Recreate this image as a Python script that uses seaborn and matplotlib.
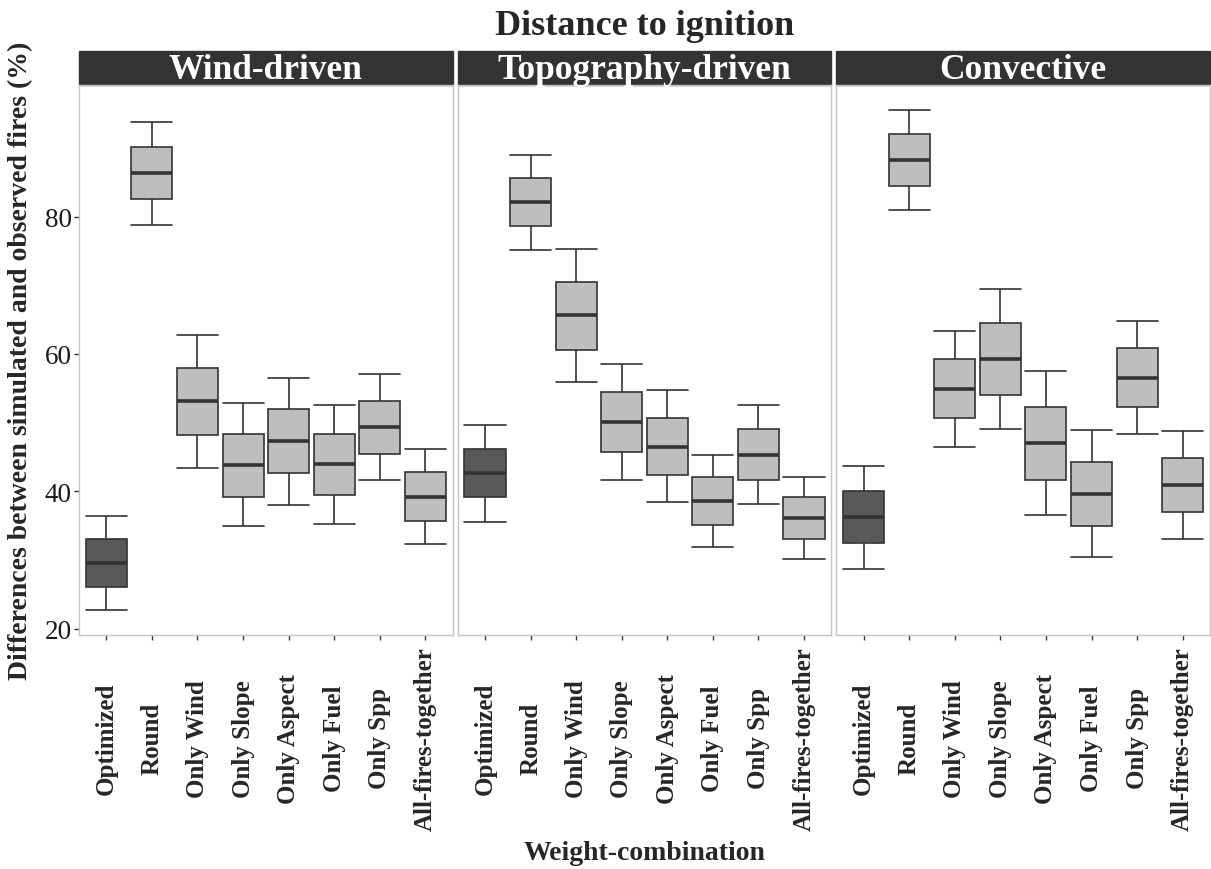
import numpy as np
import pandas as pd
import matplotlib
matplotlib.use("Agg")
import matplotlib.pyplot as plt
from matplotlib.patches import Rectangle
import seaborn as sns

combos = ["Optimized", "Round", "Only Wind", "Only Slope", "Only Aspect",
          "Only Fuel", "Only Spp", "All-fires-together"]
regimes = ["Wind-driven", "Topography-driven", "Convective"]

# per box: lower whisker, Q1, median, Q3, upper whisker
wind_vals = [
    [22.7, 26.0, 29.6, 33.1, 36.4],
    [78.8, 82.5, 86.4, 90.2, 93.8],
    [43.4, 48.2, 53.1, 58.0, 62.7],
    [34.9, 39.2, 43.8, 48.4, 52.8],
    [38.0, 42.6, 47.3, 51.9, 56.5],
    [35.2, 39.4, 43.9, 48.3, 52.5],
    [41.6, 45.4, 49.3, 53.2, 57.0],
    [32.3, 35.7, 39.2, 42.8, 46.2],
]
topo_vals = [
    [35.5, 39.1, 42.6, 46.2, 49.7],
    [75.2, 78.6, 82.1, 85.6, 89.0],
    [55.9, 60.6, 65.6, 70.5, 75.3],
    [41.6, 45.7, 50.1, 54.4, 58.5],
    [38.4, 42.4, 46.5, 50.6, 54.7],
    [31.9, 35.1, 38.6, 42.0, 45.3],
    [38.1, 41.7, 45.3, 49.0, 52.5],
    [30.1, 33.0, 36.1, 39.1, 42.0],
]
conv_vals = [
    [28.7, 32.4, 36.3, 40.0, 43.7],
    [80.9, 84.5, 88.2, 92.0, 95.5],
    [46.4, 50.6, 54.9, 59.3, 63.4],
    [49.1, 54.0, 59.3, 64.5, 69.4],
    [36.6, 41.7, 47.0, 52.3, 57.5],
    [30.4, 34.9, 39.6, 44.3, 48.9],
    [48.3, 52.3, 56.5, 60.8, 64.8],
    [33.1, 37.0, 40.9, 44.9, 48.8],
]

rows = []
for regime, vals in zip(regimes, [wind_vals, topo_vals, conv_vals]):
    for combo, v in zip(combos, vals):
        for x in v:
            rows.append((regime, combo, x))
df = pd.DataFrame(rows, columns=["regime", "combo", "diff"])

sns.set_style("white")
plt.rcParams["font.family"] = ["Liberation Serif", "DejaVu Serif"]

fig, axes = plt.subplots(1, 3, figsize=(12.11, 8.7), dpi=100, sharey=True)
fig.subplots_adjust(left=0.0652, right=0.9992, bottom=0.269, top=0.901, wspace=0.0134)

pal = {c: "#BEBEBE" for c in combos}
pal["Optimized"] = "#595959"

lo, hi = df["diff"].min(), df["diff"].max()
pad = (hi - lo) * 0.05

for i, (ax, regime) in enumerate(zip(axes, regimes)):
    sub = df[df["regime"] == regime]
    sns.boxplot(data=sub, x="combo", y="diff", hue="combo", order=combos, hue_order=combos,
                palette=pal, legend=False, width=0.9, whis=(0, 100), saturation=1,
                linecolor="#333333", linewidth=1.2, capwidths=0.9,
                medianprops=dict(linewidth=2.6, color="#333333"), ax=ax)
    ax.set_xlim(-0.6, 7.6)
    ax.set_ylim(lo - pad, hi + pad)
    ax.set_xlabel("")
    ax.set_ylabel("")
    for s in ax.spines.values():
        s.set_visible(True)
        s.set_color("#C4C4C4")
        s.set_linewidth(1.0)
    ax.set_xticks(range(len(combos)))
    ax.set_xticklabels(combos, rotation=90, va="center", ha="center",
                       fontweight="bold", fontsize=18)
    ax.tick_params(axis="x", bottom=True, length=3.6, width=1, color="#333333", pad=70.5)
    ax.set_yticks([20, 40, 60, 80])
    if i == 0:
        ax.tick_params(axis="y", left=True, length=3.6, width=1, color="#333333",
                       labelsize=19.5, labelcolor="#1A1A1A", pad=1.5)
    else:
        ax.tick_params(axis="y", left=False, labelleft=False)
    ax.add_patch(Rectangle((0, 1), 1, 34 / 550, transform=ax.transAxes, clip_on=False,
                           facecolor="#333333", edgecolor="#333333", linewidth=1))
    ax.text(0.5, 1 + 7 / 550, regime, transform=ax.transAxes, ha="center",
            va="baseline", color="white", fontsize=25.5, fontweight="bold")

fig.text(0.532, 0.9598, "Distance to ignition", ha="center", va="baseline",
         fontsize=26, fontweight="bold")
fig.text(0.532, 0.0115, "Weight-combination", ha="center", va="baseline",
         fontsize=20, fontweight="bold")
fig.text(0.0173, 0.5856, "Differences between simulated and observed fires (%)",
         ha="center", va="center", rotation=90, fontsize=20, fontweight="bold")

fig.savefig("out.png", dpi=100)
